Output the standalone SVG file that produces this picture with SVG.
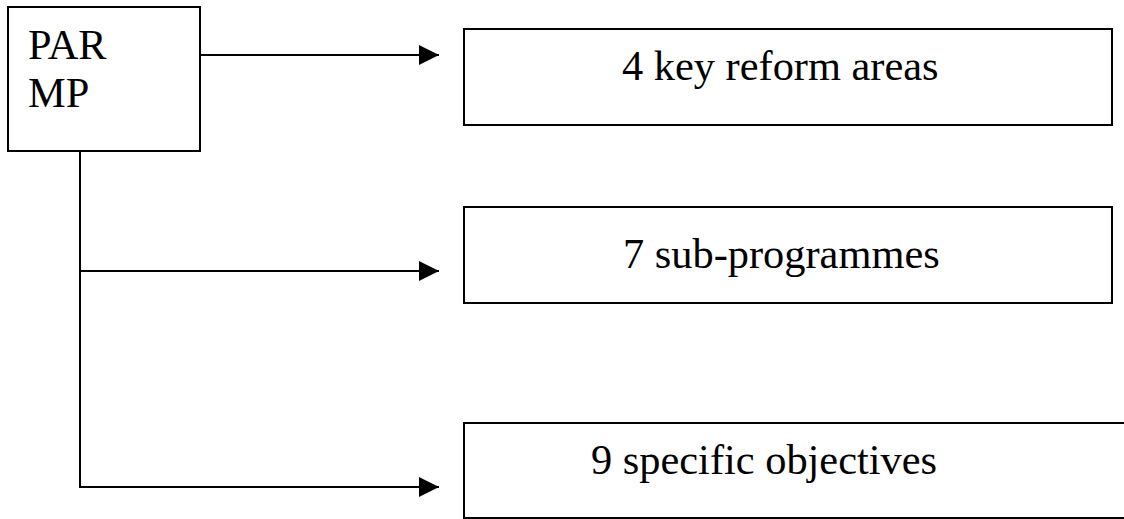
<svg xmlns="http://www.w3.org/2000/svg" width="1124" height="519" viewBox="0 0 1124 519">
  <style>
    .box { fill: #ffffff; stroke: #000000; stroke-width: 2; }
    .open { fill: none; stroke: #000000; stroke-width: 2; }
    .label { font-family: 'Liberation Serif', 'Times New Roman', serif; font-size: 42.4px; fill: #000000; }
    .wire { fill: none; stroke: #000000; stroke-width: 2; }
  </style>
  <defs>
    <marker id="arrow" markerUnits="userSpaceOnUse" markerWidth="20" markerHeight="20" viewBox="0 0 20 20" refX="20" refY="10" orient="auto">
      <path d="M0,0 L20,10 L0,20 Z" fill="#000000"/>
    </marker>
  </defs>

  <rect width="1124" height="519" fill="#ffffff"/>

  <!-- trunk from the PAR MP box with three branches -->
  <g id="connectors">
    <line class="wire" x1="200" y1="55" x2="439" y2="55" marker-end="url(#arrow)"/>
    <line class="wire" x1="80" y1="151" x2="80" y2="488"/>
    <line class="wire" x1="79" y1="271" x2="439" y2="271" marker-end="url(#arrow)"/>
    <line class="wire" x1="79" y1="487" x2="439" y2="487" marker-end="url(#arrow)"/>
  </g>

  <g id="parmp">
    <rect class="box" x="8" y="7" width="192" height="144"/>
    <text class="label" x="28" y="59">PAR</text>
    <text class="label" x="28" y="107">MP</text>
  </g>

  <g id="reform-areas">
    <rect class="box" x="464" y="29" width="648" height="96"/>
    <text class="label" x="622" y="80">4 key reform areas</text>
  </g>

  <g id="sub-programmes">
    <rect class="box" x="464" y="207" width="648" height="96"/>
    <text class="label" x="623" y="268">7 sub-programmes</text>
  </g>

  <!-- last box runs off the right edge, so it has no right side -->
  <g id="specific-objectives">
    <path class="open" d="M1124,423 H464 V518 H1124"/>
    <text class="label" x="591" y="474">9 specific objectives</text>
  </g>
</svg>
